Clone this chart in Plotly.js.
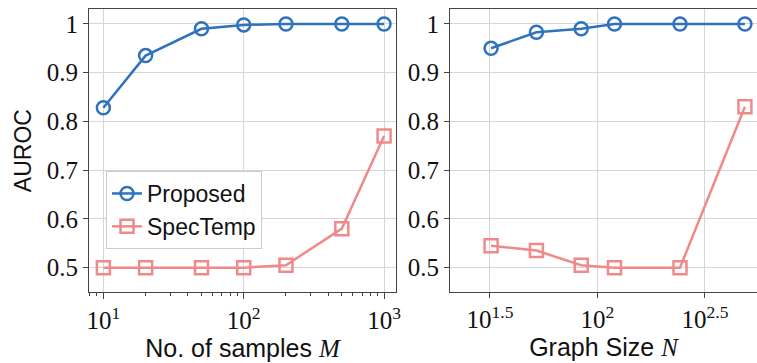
<!DOCTYPE html>
<html>
<head>
<meta charset="utf-8">
<script src="https://cdn.plot.ly/plotly-3.0.1.min.js"></script>
<style>html,body{margin:0;padding:0;background:#fff;}#chart{width:757px;height:363px;}</style>
</head>
<body>
<div id="chart"></div>
<script>
// Left panel: number of samples M
const samplesM = [10, 20, 50, 100, 200, 500, 1000];
const proposedM = [0.828, 0.935, 0.990, 0.998, 1.0, 1.0, 1.0];
const specTempM = [0.500, 0.500, 0.500, 0.500, 0.505, 0.580, 0.770];

// Right panel: graph size N
const graphN = [32, 52, 84, 120, 242, 485];
const proposedN = [0.950, 0.983, 0.990, 1.0, 1.0, 1.0];
const specTempN = [0.545, 0.535, 0.505, 0.500, 0.500, 0.830];

const leftTickVals = [10, 100, 1000];
const leftTickText = ['10<sup>1</sup>', '10<sup>2</sup>', '10<sup>3</sup>'];
const leftMinorVals = [8, 9, 20, 30, 40, 50, 60, 70, 80, 90, 200, 300, 400, 500, 600, 700, 800, 900];
const rightTickVals = [Math.pow(10, 1.5), 100, Math.pow(10, 2.5)];
const rightTickText = ['10<sup>1.5</sup>', '10<sup>2</sup>', '10<sup>2.5</sup>'];
const yTickVals = [0.5, 0.6, 0.7, 0.8, 0.9, 1.0];
const yTickText = ['0.5', '0.6', '0.7', '0.8', '0.9', '1'];

const BLUE = '#2f72bd';
const RED = '#f08a8a';
const serif = '"Liberation Serif", "DejaVu Serif", serif';
const sans = '"Liberation Sans", Arial, sans-serif';

const W = 757, H = 363;
const px = v => v / W;
const py = v => 1 - v / H;

const mkTrace = (x, y, name, color, symbol, xa, ya, show) => ({
  x: x, y: y, name: name, type: 'scatter', mode: 'lines+markers',
  xaxis: xa, yaxis: ya, showlegend: show,
  line: {color: color, width: 2.5},
  marker: {symbol: symbol, size: 13, color: color, line: {color: color, width: 2.5}}
});

const data = [
  mkTrace(samplesM, proposedM, 'Proposed', BLUE, 'circle-open', 'x', 'y', true),
  mkTrace(samplesM, specTempM, 'SpecTemp', RED, 'square-open', 'x', 'y', true),
  mkTrace(graphN, proposedN, 'Proposed', BLUE, 'circle-open', 'x2', 'y2', false),
  mkTrace(graphN, specTempN, 'SpecTemp', RED, 'square-open', 'x2', 'y2', false)
];

const gridc = '#d6d6d6';
const framec = '#444';
const tickFont = {family: serif, size: 25, color: '#111'};
const titleFont = {family: sans, size: 25, color: '#111'};
const yax = () => ({
  domain: [py(292), py(9.3)],
  range: [0.45, 1.03],
  tickvals: yTickVals, ticktext: yTickText,
  tickfont: tickFont,
  showgrid: true, gridcolor: gridc, gridwidth: 1,
  showline: true, linecolor: framec, linewidth: 1,
  ticks: 'outside', ticklen: 5, tickcolor: framec, tickwidth: 1,
  zeroline: false, fixedrange: true
});

const layout = {
  width: W, height: H,
  margin: {l: 0, r: 0, t: 0, b: 0},
  paper_bgcolor: '#fff', plot_bgcolor: '#fff',
  showlegend: true,
  legend: {
    x: px(106), y: py(171), xanchor: 'left', yanchor: 'top',
    bgcolor: 'rgba(255,255,255,0.85)', bordercolor: '#cccccc', borderwidth: 1,
    font: {family: sans, size: 23, color: '#111'},
    itemwidth: 30
  },
  xaxis: {
    domain: [px(89), px(396)],
    type: 'log', range: [Math.log10(7.9), 3.085],
    tickvals: leftTickVals, ticktext: leftTickText,
    tickfont: tickFont,
    ticks: 'outside', ticklen: 6, tickcolor: framec, tickwidth: 1,
    minor: {tickmode: 'array', tickvals: leftMinorVals, ticks: 'outside', ticklen: 3, tickcolor: framec, tickwidth: 1, showgrid: false},
    showgrid: true, gridcolor: gridc, gridwidth: 1,
    showline: true, linecolor: framec, linewidth: 1, mirror: true,
    zeroline: false, anchor: 'y', fixedrange: true,
    title: {text: 'No. of samples <i style="font-family:Liberation Serif">M</i>', font: titleFont, standoff: 4}
  },
  yaxis: Object.assign(yax(), {
    anchor: 'x', mirror: true,
    title: {text: 'AUROC', font: {family: sans, size: 23, color: '#111'}, standoff: 8}
  }),
  xaxis2: {
    domain: [px(450), 1],
    type: 'log', range: [1.314, 2.742],
    tickvals: rightTickVals, ticktext: rightTickText,
    tickfont: tickFont,
    ticks: 'outside', ticklen: 5, tickcolor: framec, tickwidth: 1,
    showgrid: true, gridcolor: gridc, gridwidth: 1,
    showline: true, linecolor: framec, linewidth: 1, mirror: true,
    zeroline: false, anchor: 'y2', fixedrange: true,
    title: {text: 'Graph Size <i style="font-family:Liberation Serif">N</i>', font: titleFont, standoff: 4}
  },
  yaxis2: Object.assign(yax(), {anchor: 'x2', mirror: false})
};

Plotly.newPlot('chart', data, layout, {displayModeBar: false, staticPlot: true});
</script>
</body>
</html>
